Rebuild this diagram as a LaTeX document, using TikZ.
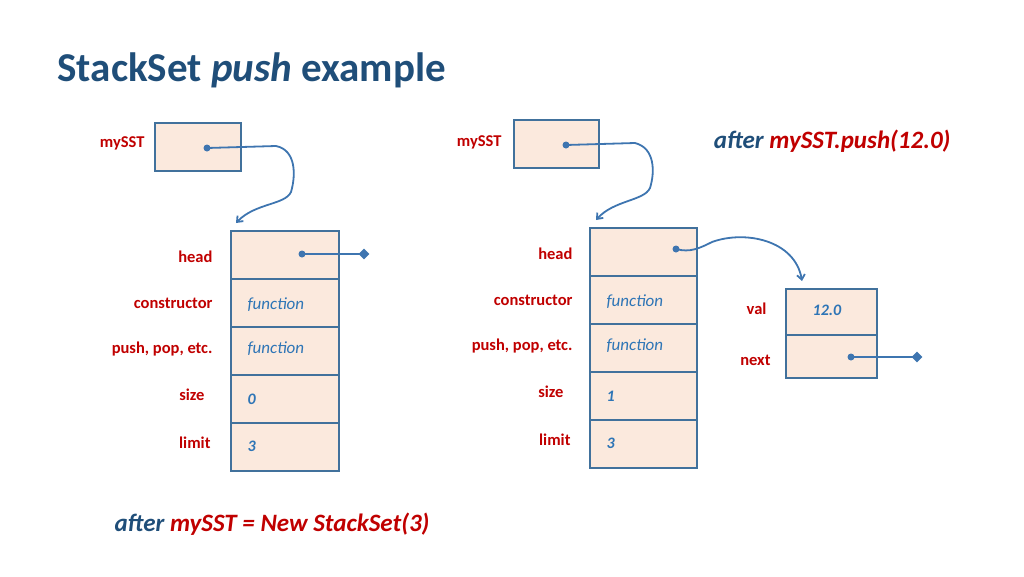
\documentclass[tikz,border=0pt]{standalone}
\usepackage{fontspec}
\setmainfont{Carlito}
\usetikzlibrary{arrows.meta,shapes.geometric}
\definecolor{ttl}{HTML}{1F4E79}
\definecolor{rd}{HTML}{C00000}
\definecolor{bfill}{HTML}{FBE9DD}
\definecolor{bdr}{HTML}{41719C}
\definecolor{ln}{HTML}{3E75B0}
\definecolor{fn}{HTML}{2E75B6}
\tikzset{
 cell/.style={draw=bdr,fill=bfill,line width=1.5pt,minimum width=108pt,minimum height=48pt,inner sep=0pt,anchor=north west},
 ref/.style={draw=bdr,fill=bfill,line width=1.5pt,minimum width=86pt,minimum height=48pt,inner sep=0pt,anchor=north west},
 ncell/.style={draw=bdr,fill=bfill,line width=1.5pt,minimum width=91pt,inner sep=0pt,anchor=north west},
 lbl/.style={text=rd,font=\bfseries\fontsize{16.5}{19}\selectfont,anchor=east},
 val/.style={text=fn,font=\itshape\fontsize{17}{20}\selectfont,anchor=west},
 num/.style={text=fn,font=\bfseries\itshape\fontsize{16}{19}\selectfont,anchor=west},
 dot/.style={circle,fill=ln,inner sep=0pt,minimum size=7pt},
 dia/.style={diamond,fill=ln,inner sep=0pt,minimum size=11pt},
 con/.style={draw=ln,line width=1.8pt},
 arr/.style={con,-{Straight Barb[length=5pt,width=8pt]}},
}
\begin{document}
\begin{tikzpicture}[x=1pt,y=-1pt]
\useasboundingbox (0,0) rectangle (1024,576);
\node[anchor=west,text=ttl,font=\bfseries\fontsize{41}{46}\selectfont] (title) at (54,70) {StackSet \textit{push} example};
% left
\node[ref] (r1) at (154,122) {};
\node[lbl] (m1) at (148,143) {mySST};
\node[cell] (h1) at (230,230) {};
\node[cell] (c1) at (230,278) {};
\node[cell] (p1) at (230,326) {};
\node[cell] (s1) at (230,374) {};
\node[cell] (l1) at (230,422) {};
\node[lbl] at (216,257) {head};
\node[lbl] at (216,303) {constructor};
\node[lbl] at (216,349) {push, pop, etc.};
\node[lbl] at (208,395) {size};
\node[lbl] at (214,443) {limit};
\node[val] at (244,305) {function};
\node[val] at (244,349) {function};
\node[num] at (244,399) {0};
\node[num] at (244,446) {3};
\node[dot] (d1) at (207,148) {};
\draw[arr] (d1.center) -- (276,146) .. controls (296,150) and (296,175) .. (291,192) .. controls (285,205) and (255,203) .. (236,223);
\node[dot] (d2) at (302,254) {};
\node[dia] (e2) at (364,254) {};
\draw[con] (d2.center) -- (e2.center);
% right
\node[ref,minimum width=85pt] (r2) at (513,119) {};
\node[lbl] (m2) at (505,142) {mySST};
\node[cell,minimum width=107pt] (h2) at (589,227) {};
\node[cell,minimum width=107pt] (c2) at (589,275) {};
\node[cell,minimum width=107pt] (p2) at (589,323) {};
\node[cell,minimum width=107pt] (s2) at (589,371) {};
\node[cell,minimum width=107pt] (l2) at (589,419) {};
\node[lbl] at (576,254) {head};
\node[lbl] at (576,300) {constructor};
\node[lbl] at (576,346) {push, pop, etc.};
\node[lbl] at (567,392) {size};
\node[lbl] at (574,440) {limit};
\node[val] at (603,302) {function};
\node[val] at (603,346) {function};
\node[num] at (603,396) {1};
\node[num] at (603,443) {3};
\node[dot] (d3) at (566,145) {};
\draw[arr] (d3.center) -- (635,143) .. controls (655,148) and (655,172) .. (650,188) .. controls (644,201) and (614,200) .. (596,220);
\node[dot] (d4) at (676,249) {};
\draw[arr] (d4.center) .. controls (690,253) and (700,248) .. (712,242) .. controls (745,230) and (795,240) .. (802,281);
\node[ncell,minimum height=46pt] (v) at (785,288) {};
\node[ncell,minimum height=43pt] (n) at (785,334) {};
\node[lbl] at (770,309) {val};
\node[lbl] at (774,360) {next};
\node[num] at (827,310) [anchor=center] {12.0};
\node[dot] (d5) at (851,357) {};
\node[dia] (e5) at (917,357) {};
\draw[con] (d5.center) -- (e5.center);
% captions
\node[anchor=east,font=\bfseries\itshape\fontsize{25}{29}\selectfont] (cap2) at (954,141) {\textcolor{ttl}{after} \textcolor{rd}{mySST.push(12.0)}};
\node[anchor=west,font=\bfseries\itshape\fontsize{25}{29}\selectfont] (cap1) at (111,524) {\textcolor{ttl}{after} \textcolor{rd}{mySST = New StackSet(3)}};
\end{tikzpicture}
\end{document}
